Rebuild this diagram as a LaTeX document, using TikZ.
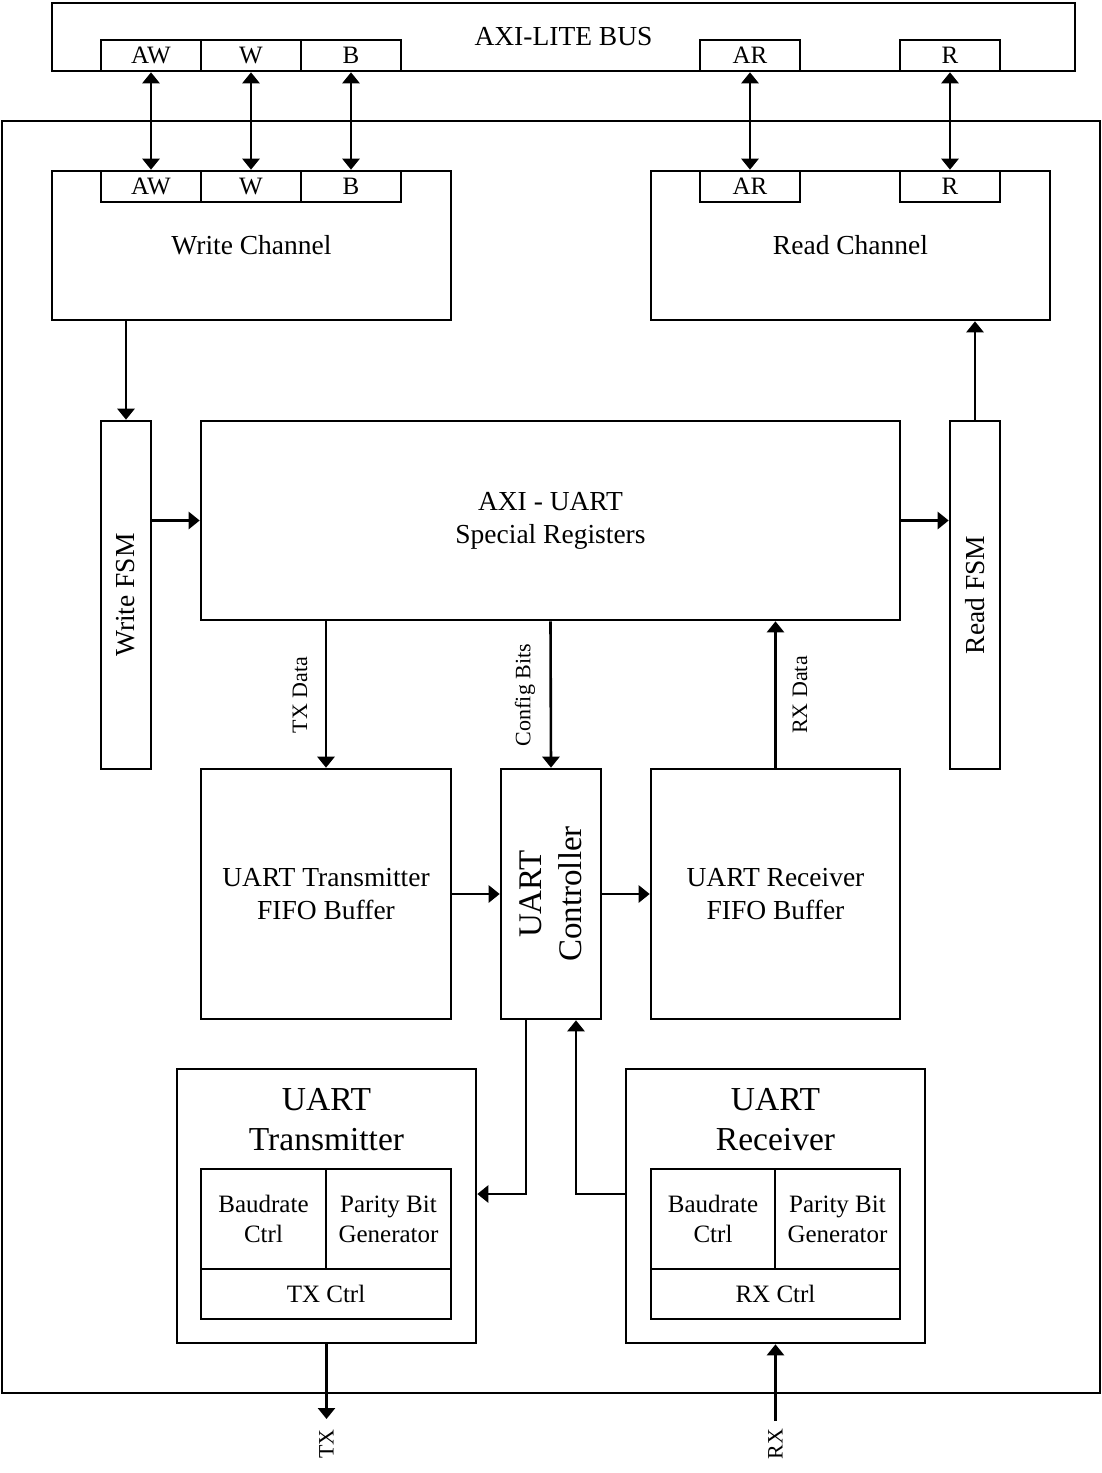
\documentclass[tikz,border=0pt]{standalone}
\usepackage{fontspec}
\setmainfont{Liberation Serif}
\usetikzlibrary{arrows.meta}

\newcommand{\fmain}{\fontsize{27.5}{33}\selectfont}
\newcommand{\fport}{\fontsize{25}{30}\selectfont}
\newcommand{\fsub}{\fontsize{25}{30}\selectfont}
\newcommand{\flbl}{\fontsize{22}{26}\selectfont}
\newcommand{\fctrl}{\fontsize{33}{40}\selectfont}
\newcommand{\ftitle}{\fontsize{33.5}{40}\selectfont}

\begin{document}
\begin{tikzpicture}[x=1pt,y=-1pt,
  line width=2.6pt,
  >={Triangle[width=17pt,length=11pt]},
  box/.style={draw, rectangle, inner sep=0pt, align=center, font=\fmain},
  port/.style={draw, fill=white, rectangle, inner sep=0pt, minimum width=100pt, minimum height=31pt, font=\fport},
  cell/.style={draw, rectangle, inner sep=0pt, align=center, font=\fsub},
  lbl/.style={inner sep=0pt, font=\flbl, rotate=90}
]
\useasboundingbox (0,0) rectangle (1102,1473);

% AXI-Lite bus and its channel ports
\node[box, minimum width=1023pt, minimum height=68pt] (bus) at (563.5,37) {AXI-LITE BUS};
\node[port] (bAW) at (151,55.5) {AW};
\node[port] (bW)  at (251,55.5) {W};
\node[port] (bB)  at (351,55.5) {B};
\node[port] (bAR) at (750,55.5) {AR};
\node[port] (bR)  at (950,55.5) {R};

% IP core frame
\node[draw, rectangle, inner sep=0pt, minimum width=1098pt, minimum height=1272pt] (core) at (551,757) {};

% write and read channels
\node[box, minimum width=399pt, minimum height=149pt] (wch) at (251.5,245.5) {Write Channel};
\node[port] (wAW) at (151,186.5) {AW};
\node[port] (wW)  at (251,186.5) {W};
\node[port] (wB)  at (351,186.5) {B};
\node[box, minimum width=399pt, minimum height=149pt] (rch) at (850.5,245.5) {Read Channel};
\node[port] (rAR) at (750,186.5) {AR};
\node[port] (rR)  at (950,186.5) {R};

\foreach \a/\b in {bAW/wAW, bW/wW, bB/wB, bAR/rAR, bR/rR}
  \draw[<->] (\a.south) -- (\b.north);

% FSMs and register file
\node[box, minimum width=50pt, minimum height=348pt,
      label={[rotate=90, font=\fmain]center:Write FSM}] (wfsm) at (126,595) {};
\node[box, minimum width=50pt, minimum height=348pt,
      label={[rotate=90, font=\fmain]center:Read FSM}] (rfsm) at (975,595) {};
\node[box, minimum width=699pt, minimum height=199pt] (regs) at (550.5,520.5) {AXI - UART\\Special Registers};

\draw[->] (wfsm.north |- wch.south) -- (wfsm.north);
\draw[->] (wfsm.east |- regs.west) -- (regs.west);
\draw[->] (regs.east) -- (rfsm.west |- regs.east);
\draw[->] (rfsm.north) -- (rfsm.north |- rch.south);

% FIFOs and controller
\node[box, minimum width=250pt, minimum height=250pt] (txfifo) at (326,894) {UART Transmitter\\FIFO Buffer};
\node[box, minimum width=100pt, minimum height=250pt,
      label={[rotate=90, font=\fctrl, align=center]center:{UART\\Controller}}] (ctrl) at (551,894) {};
\node[box, minimum width=249pt, minimum height=250pt] (rxfifo) at (775.5,894) {UART Receiver\\FIFO Buffer};

\draw[->] (txfifo.north |- regs.south) -- (txfifo.north);
\draw[->] (regs.south) -- (ctrl.north);
\draw[->] (rxfifo.north) -- (rxfifo.north |- regs.south);
\node[lbl] (ltx) at (300,695) {TX Data};
\node[lbl] (lcfg) at (525,695) {Config Bits};
\node[lbl] (lrx) at (800,695) {RX Data};

\draw[->] (txfifo.east) -- (ctrl.west |- txfifo.east);
\draw[->] (ctrl.east |- rxfifo.west) -- (rxfifo.west);

% UART transmitter
\node[box, minimum width=299pt, minimum height=274pt] (utx) at (326.5,1206) {};
\node[inner sep=0pt, align=center, font=\ftitle] (utxt) at (326.5,1120) {UART\\Transmitter};
\node[cell, minimum width=125pt, minimum height=100pt] (tbaud) at (263.5,1219) {Baudrate\\Ctrl};
\node[cell, minimum width=125pt, minimum height=100pt] (tpar) at (388.5,1219) {Parity Bit\\Generator};
\node[cell, minimum width=250pt, minimum height=50pt] (tctl) at (326,1294) {TX Ctrl};

% UART receiver
\node[box, minimum width=299pt, minimum height=274pt] (urx) at (775.5,1206) {};
\node[inner sep=0pt, align=center, font=\ftitle] (urxt) at (775.5,1120) {UART\\Receiver};
\node[cell, minimum width=124pt, minimum height=100pt] (rbaud) at (713,1219) {Baudrate\\Ctrl};
\node[cell, minimum width=125pt, minimum height=100pt] (rpar) at (837.5,1219) {Parity Bit\\Generator};
\node[cell, minimum width=249pt, minimum height=50pt] (rctl) at (775.5,1294) {RX Ctrl};

\draw[->] ([xshift=-25pt]ctrl.south) |- ([yshift=12pt]utx.east);
\draw[->] ([yshift=12pt]urx.west) -| ([xshift=25pt]ctrl.south);

% serial pins
\coordinate (txo) at (326.5,1419);
\coordinate (rxi) at (775.5,1421);
\draw[->] (utx.south) -- (txo);
\draw[->] (rxi) -- (urx.south);
\node[lbl] (ltxp) at (326.5,1444) {TX};
\node[lbl] (lrxp) at (775.5,1444) {RX};
\end{tikzpicture}
\end{document}
